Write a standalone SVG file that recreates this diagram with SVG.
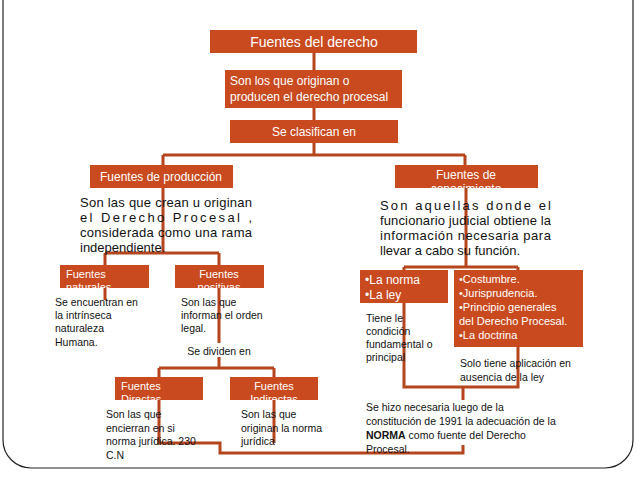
<svg xmlns="http://www.w3.org/2000/svg" width="638" height="479" viewBox="0 0 638 479">
<style>
.b{fill:#C94A1F}
.w{fill:#fff;font-family:"Liberation Sans",Arial,sans-serif}
.k{fill:#111;font-family:"Liberation Sans",Arial,sans-serif}
.c{fill:none;stroke:#B5451C;stroke-width:3}
</style>
<defs>
<clipPath id="cc"><rect x="395" y="165" width="143" height="23"/></clipPath>
<clipPath id="cn"><rect x="60" y="265" width="89" height="23"/></clipPath>
<clipPath id="cp"><rect x="175" y="265" width="89" height="23"/></clipPath>
<clipPath id="cd"><rect x="115" y="377" width="88" height="23"/></clipPath>
<clipPath id="ci"><rect x="230" y="377" width="88" height="23"/></clipPath>
</defs>
<rect width="638" height="479" fill="#fff"/>
<rect x="3" y="-40" width="630" height="508" rx="28" fill="none" stroke="#222" stroke-width="1.2"/>
<g id="connectors">
<path class="c" d="M314 53V155M163 155H465M163 155V165M465 155V165"/>
<path class="c" d="M163 188V253M105 253H219M105 253V265M219 253V265"/>
<path class="c" d="M105 288V300M219 288V368M159 368H274M159 368V377M274 368V377"/>
<path class="c" d="M159 400V443H220V453H463V445M274 400V443"/>
<path class="c" d="M466 188V267M404 267H518M404 267V272M518 267V272"/>
<path class="c" d="M404 303V387H518V347M463 387V400"/>
</g>
<g id="n1"><rect class="b" x="210" y="30" width="207" height="23"/><text class="w" x="314" y="47" font-size="14" text-anchor="middle">Fuentes del derecho</text></g>
<g id="n2"><rect class="b" x="225" y="70" width="177" height="38"/><text class="w" x="230" y="85" font-size="12">Son los que originan o</text><text class="w" x="230" y="101" font-size="12">producen el derecho procesal</text></g>
<g id="n3"><rect class="b" x="230" y="120" width="168" height="23"/><text class="w" x="314" y="136" font-size="12" text-anchor="middle">Se clasifican en</text></g>
<g id="n4"><rect class="b" x="90" y="165" width="143" height="23"/><text class="w" x="161" y="181" font-size="12" text-anchor="middle">Fuentes de producción</text></g>
<g id="n5"><rect class="b" x="395" y="165" width="143" height="23"/><g clip-path="url(#cc)"><text class="w" x="466" y="179" font-size="12" text-anchor="middle">Fuentes de</text><text class="w" x="466" y="193" font-size="12" text-anchor="middle">conocimiento</text></g></g>
<g id="t1" font-size="13"><text class="k" x="80" y="207" textLength="172" lengthAdjust="spacing">Son las que crean u  originan</text><text class="k" x="80" y="222" textLength="172" lengthAdjust="spacing">el    Derecho    Procesal    ,</text><text class="k" x="80" y="237" textLength="172" lengthAdjust="spacing">considerada como una rama</text><text class="k" x="80" y="252">independiente.</text></g>
<g id="t2" font-size="13"><text class="k" x="380" y="210" textLength="171" lengthAdjust="spacing">Son   aquellas   donde   el</text><text class="k" x="380" y="225" textLength="171" lengthAdjust="spacing">funcionario judicial obtiene la</text><text class="k" x="380" y="240" textLength="171" lengthAdjust="spacing">información  necesaria  para</text><text class="k" x="380" y="255">llevar a cabo su función.</text></g>
<g id="n6"><rect class="b" x="60" y="265" width="89" height="23"/><g clip-path="url(#cn)"><text class="w" x="66" y="278" font-size="11">Fuentes</text><text class="w" x="66" y="291" font-size="11">naturales</text></g></g>
<g id="n7"><rect class="b" x="175" y="265" width="89" height="23"/><g clip-path="url(#cp)"><text class="w" x="219" y="278" font-size="11" text-anchor="middle">Fuentes</text><text class="w" x="219" y="291" font-size="11" text-anchor="middle">positivas</text></g></g>
<g id="t3" font-size="10.5"><text class="k" x="55" y="306">Se encuentran en</text><text class="k" x="55" y="319">la intrínseca</text><text class="k" x="55" y="332">naturaleza</text><text class="k" x="55" y="346">Humana.</text></g>
<g id="t4" font-size="10.5"><text class="k" x="181" y="306">Son las que</text><text class="k" x="181" y="319">informan el orden</text><text class="k" x="181" y="332">legal.</text></g>
<g id="t5"><rect x="186" y="343" width="66" height="14" fill="#fff"/><text class="k" x="219" y="355" font-size="10.5" text-anchor="middle">Se dividen en</text></g>
<g id="n8"><rect class="b" x="115" y="377" width="88" height="23"/><g clip-path="url(#cd)"><text class="w" x="121" y="390" font-size="11">Fuentes</text><text class="w" x="121" y="403" font-size="11">Directas</text></g></g>
<g id="n9"><rect class="b" x="230" y="377" width="88" height="23"/><g clip-path="url(#ci)"><text class="w" x="274" y="390" font-size="11" text-anchor="middle">Fuentes</text><text class="w" x="274" y="403" font-size="11" text-anchor="middle">Indirectas</text></g></g>
<g id="t6" font-size="10.5"><text class="k" x="106" y="418">Son las que</text><text class="k" x="106" y="432">encierran en si</text><text class="k" x="106" y="445">norma jurídica.  230</text><text class="k" x="106" y="459">C.N</text></g>
<g id="t7" font-size="10.5"><text class="k" x="241" y="418">Son las que</text><text class="k" x="241" y="432">originan la norma</text><text class="k" x="241" y="445">jurídica</text></g>
<g id="n10"><rect class="b" x="360" y="270" width="88" height="33"/><text class="w" x="365" y="284" font-size="12">•La norma</text><text class="w" x="365" y="299" font-size="12">•La ley</text></g>
<g id="n11"><rect class="b" x="454" y="270" width="129" height="77"/><g class="w" font-size="11"><text x="459" y="283">•Costumbre.</text><text x="459" y="297">•Jurisprudencia.</text><text x="459" y="311">•Principio generales</text><text x="459" y="325">del Derecho Procesal.</text><text x="459" y="339">•La doctrina</text></g></g>
<g id="t8" font-size="10.5"><text class="k" x="366" y="322">Tiene le</text><text class="k" x="366" y="335">condición</text><text class="k" x="366" y="348">fundamental o</text><text class="k" x="366" y="361">principal</text></g>
<g id="t9" font-size="10.5"><text class="k" x="460" y="367">Solo tiene aplicación en</text><text class="k" x="460" y="381">ausencia de la ley</text></g>
<g id="t10" font-size="10.5"><text class="k" x="366" y="411">Se hizo necesaria  luego de la</text><text class="k" x="366" y="425">constitución de 1991 la adecuación de la</text><text class="k" x="366" y="439"><tspan font-weight="bold">NORMA</tspan> como fuente del Derecho</text><text class="k" x="366" y="453">Procesal.</text></g>
</svg>
